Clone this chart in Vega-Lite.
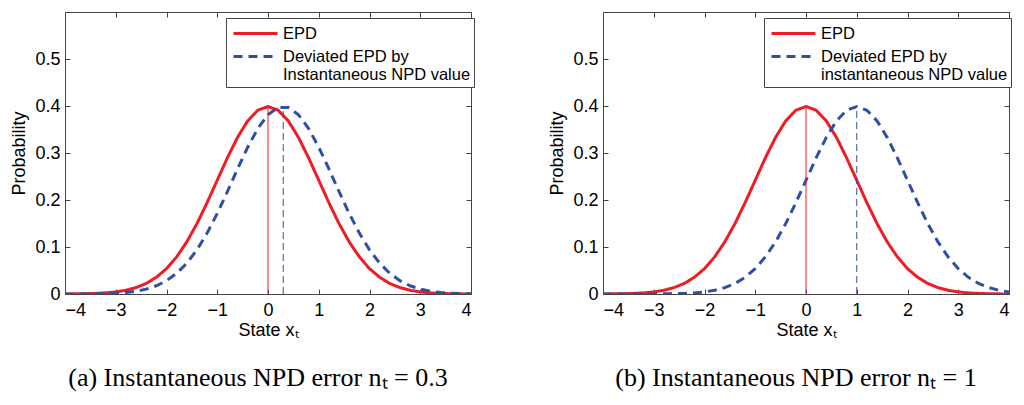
{
  "$schema": "https://vega.github.io/schema/vega-lite/v6.json",
  "background": "white",
  "padding": {"left": 10, "top": 11, "right": 5, "bottom": 2},
  "datasets": {
    "a": [
      {"x": -4.0, "EPD": 0.0001, "Deviated": 0.0000},
      {"x": -3.8, "EPD": 0.0003, "Deviated": 0.0001},
      {"x": -3.6, "EPD": 0.0006, "Deviated": 0.0002},
      {"x": -3.4, "EPD": 0.0012, "Deviated": 0.0004},
      {"x": -3.2, "EPD": 0.0024, "Deviated": 0.0009},
      {"x": -3.0, "EPD": 0.0044, "Deviated": 0.0017},
      {"x": -2.8, "EPD": 0.0079, "Deviated": 0.0033},
      {"x": -2.6, "EPD": 0.0136, "Deviated": 0.0060},
      {"x": -2.4, "EPD": 0.0224, "Deviated": 0.0104},
      {"x": -2.2, "EPD": 0.0355, "Deviated": 0.0175},
      {"x": -2.0, "EPD": 0.0540, "Deviated": 0.0283},
      {"x": -1.8, "EPD": 0.0790, "Deviated": 0.0440},
      {"x": -1.6, "EPD": 0.1109, "Deviated": 0.0656},
      {"x": -1.4, "EPD": 0.1497, "Deviated": 0.0940},
      {"x": -1.2, "EPD": 0.1942, "Deviated": 0.1295},
      {"x": -1.0, "EPD": 0.2420, "Deviated": 0.1714},
      {"x": -0.8, "EPD": 0.2897, "Deviated": 0.2179},
      {"x": -0.6, "EPD": 0.3332, "Deviated": 0.2661},
      {"x": -0.4, "EPD": 0.3683, "Deviated": 0.3123},
      {"x": -0.2, "EPD": 0.3910, "Deviated": 0.3521},
      {"x": 0.0, "EPD": 0.3989, "Deviated": 0.3814},
      {"x": 0.2, "EPD": 0.3910, "Deviated": 0.3970},
      {"x": 0.4, "EPD": 0.3683, "Deviated": 0.3970},
      {"x": 0.6, "EPD": 0.3332, "Deviated": 0.3814},
      {"x": 0.8, "EPD": 0.2897, "Deviated": 0.3521},
      {"x": 1.0, "EPD": 0.2420, "Deviated": 0.3123},
      {"x": 1.2, "EPD": 0.1942, "Deviated": 0.2661},
      {"x": 1.4, "EPD": 0.1497, "Deviated": 0.2179},
      {"x": 1.6, "EPD": 0.1109, "Deviated": 0.1714},
      {"x": 1.8, "EPD": 0.0790, "Deviated": 0.1295},
      {"x": 2.0, "EPD": 0.0540, "Deviated": 0.0940},
      {"x": 2.2, "EPD": 0.0355, "Deviated": 0.0656},
      {"x": 2.4, "EPD": 0.0224, "Deviated": 0.0440},
      {"x": 2.6, "EPD": 0.0136, "Deviated": 0.0283},
      {"x": 2.8, "EPD": 0.0079, "Deviated": 0.0175},
      {"x": 3.0, "EPD": 0.0044, "Deviated": 0.0104},
      {"x": 3.2, "EPD": 0.0024, "Deviated": 0.0060},
      {"x": 3.4, "EPD": 0.0012, "Deviated": 0.0033},
      {"x": 3.6, "EPD": 0.0006, "Deviated": 0.0017},
      {"x": 3.8, "EPD": 0.0003, "Deviated": 0.0009},
      {"x": 4.0, "EPD": 0.0001, "Deviated": 0.0004}
    ],
    "b": [
      {"x": -4.0, "EPD": 0.0001, "Deviated": 0.0000},
      {"x": -3.8, "EPD": 0.0003, "Deviated": 0.0000},
      {"x": -3.6, "EPD": 0.0006, "Deviated": 0.0000},
      {"x": -3.4, "EPD": 0.0012, "Deviated": 0.0000},
      {"x": -3.2, "EPD": 0.0024, "Deviated": 0.0000},
      {"x": -3.0, "EPD": 0.0044, "Deviated": 0.0001},
      {"x": -2.8, "EPD": 0.0079, "Deviated": 0.0003},
      {"x": -2.6, "EPD": 0.0136, "Deviated": 0.0006},
      {"x": -2.4, "EPD": 0.0224, "Deviated": 0.0012},
      {"x": -2.2, "EPD": 0.0355, "Deviated": 0.0024},
      {"x": -2.0, "EPD": 0.0540, "Deviated": 0.0044},
      {"x": -1.8, "EPD": 0.0790, "Deviated": 0.0079},
      {"x": -1.6, "EPD": 0.1109, "Deviated": 0.0136},
      {"x": -1.4, "EPD": 0.1497, "Deviated": 0.0224},
      {"x": -1.2, "EPD": 0.1942, "Deviated": 0.0355},
      {"x": -1.0, "EPD": 0.2420, "Deviated": 0.0540},
      {"x": -0.8, "EPD": 0.2897, "Deviated": 0.0790},
      {"x": -0.6, "EPD": 0.3332, "Deviated": 0.1109},
      {"x": -0.4, "EPD": 0.3683, "Deviated": 0.1497},
      {"x": -0.2, "EPD": 0.3910, "Deviated": 0.1942},
      {"x": 0.0, "EPD": 0.3989, "Deviated": 0.2420},
      {"x": 0.2, "EPD": 0.3910, "Deviated": 0.2897},
      {"x": 0.4, "EPD": 0.3683, "Deviated": 0.3332},
      {"x": 0.6, "EPD": 0.3332, "Deviated": 0.3683},
      {"x": 0.8, "EPD": 0.2897, "Deviated": 0.3910},
      {"x": 1.0, "EPD": 0.2420, "Deviated": 0.3989},
      {"x": 1.2, "EPD": 0.1942, "Deviated": 0.3910},
      {"x": 1.4, "EPD": 0.1497, "Deviated": 0.3683},
      {"x": 1.6, "EPD": 0.1109, "Deviated": 0.3332},
      {"x": 1.8, "EPD": 0.0790, "Deviated": 0.2897},
      {"x": 2.0, "EPD": 0.0540, "Deviated": 0.2420},
      {"x": 2.2, "EPD": 0.0355, "Deviated": 0.1942},
      {"x": 2.4, "EPD": 0.0224, "Deviated": 0.1497},
      {"x": 2.6, "EPD": 0.0136, "Deviated": 0.1109},
      {"x": 2.8, "EPD": 0.0079, "Deviated": 0.0790},
      {"x": 3.0, "EPD": 0.0044, "Deviated": 0.0540},
      {"x": 3.2, "EPD": 0.0024, "Deviated": 0.0355},
      {"x": 3.4, "EPD": 0.0012, "Deviated": 0.0224},
      {"x": 3.6, "EPD": 0.0006, "Deviated": 0.0136},
      {"x": 3.8, "EPD": 0.0003, "Deviated": 0.0079},
      {"x": 4.0, "EPD": 0.0001, "Deviated": 0.0044}
    ],
    "markers_a": [
      {"x": 0, "y0": 0, "y1": 0.3989, "series": "EPD"},
      {"x": 0.3, "y0": 0, "y1": 0.3989, "series": "Deviated"}
    ],
    "markers_b": [
      {"x": 0, "y0": 0, "y1": 0.3989, "series": "EPD"},
      {"x": 1, "y0": 0, "y1": 0.3989, "series": "Deviated"}
    ]
  },
  "config": {
    "font": "Liberation Sans",
    "view": {"stroke": "#444444", "strokeWidth": 1},
    "axis": {
      "grid": false,
      "domain": false,
      "tickColor": "#444444",
      "tickSize": -5,
      "labelFontSize": 18,
      "labelColor": "black",
      "titleFontSize": 18,
      "titleFontWeight": "normal",
      "titleColor": "black"
    },
    "title": {"font": "Liberation Serif", "fontSize": 26, "fontWeight": "normal", "color": "black", "orient": "bottom"},
    "legend": {
      "orient": "none",
      "legendX": 161,
      "legendY": 6,
      "strokeColor": "#444444",
      "fillColor": "white",
      "padding": 3,
      "symbolType": "M-2,0H2",
      "symbolSize": 484,
      "symbolOffset": 14,
      "symbolStrokeWidth": 3,
      "labelFontSize": 16.5,
      "labelColor": "black",
      "labelOffset": 15,
      "labelLimit": 300,
      "rowPadding": 2,
      "title": null
    }
  },
  "hconcat": [
    {
      "title": {"text": "(a) Instantaneous NPD error nₜ = 0.3", "dx": -10, "offset": 26},
      "width": 406,
      "height": 282,
      "layer": [
        {
          "data": {"name": "a"},
          "transform": [{"fold": ["EPD", "Deviated"], "as": ["series", "p"]}],
          "mark": {"type": "line", "strokeWidth": 3, "clip": true},
          "encoding": {
            "x": {"field": "x", "type": "quantitative", "scale": {"domain": [-4, 4], "nice": false},
                  "axis": {"orient": "bottom", "values": [-4, -3, -2, -1, 0, 1, 2, 3, 4], "title": "State xₜ", "labelPadding": 12, "titlePadding": 2}},
            "y": {"field": "p", "type": "quantitative", "scale": {"domain": [0, 0.6], "nice": false},
                  "axis": {"orient": "left", "values": [0, 0.1, 0.2, 0.3, 0.4, 0.5], "format": "~g", "title": "Probability", "labelPadding": 10, "titlePadding": 6}},
            "color": {"field": "series", "type": "nominal",
                      "scale": {"domain": ["EPD", "Deviated"], "range": ["#f01c24", "#2f4fa2"]},
                      "legend": {"labelExpr": "datum.label == 'EPD' ? 'EPD' : ['Deviated EPD by', 'Instantaneous NPD value']"}},
            "strokeDash": {"field": "series", "type": "nominal",
                           "scale": {"domain": ["EPD", "Deviated"], "range": [[1, 0], [9, 6]]},
                           "legend": {"labelExpr": "datum.label == 'EPD' ? 'EPD' : ['Deviated EPD by', 'Instantaneous NPD value']"}}
          }
        },
        {
          "data": {"name": "markers_a"},
          "transform": [{"filter": "datum.series == 'EPD'"}],
          "mark": {"type": "rule", "strokeWidth": 1, "color": "#f01c24"},
          "encoding": {
            "x": {"field": "x", "type": "quantitative", "axis": null},
            "y": {"field": "y0", "type": "quantitative", "axis": null},
            "y2": {"field": "y1"}
          }
        },
        {
          "data": {"name": "markers_a"},
          "transform": [{"filter": "datum.series == 'Deviated'"}],
          "mark": {"type": "rule", "strokeWidth": 1, "color": "#2f4fa2", "strokeDash": [7, 4]},
          "encoding": {
            "x": {"field": "x", "type": "quantitative", "axis": null},
            "y": {"field": "y0", "type": "quantitative", "axis": null},
            "y2": {"field": "y1"}
          }
        },
        {
          "data": {"name": "markers_a"},
          "mark": {"type": "rule", "opacity": 0},
          "encoding": {
            "x": {"field": "x", "type": "quantitative", "axis": {"orient": "top", "values": [-4, -3, -2, -1, 0, 1, 2, 3, 4], "labels": false, "title": null}},
            "y": {"field": "y0", "type": "quantitative", "axis": {"orient": "right", "values": [0, 0.1, 0.2, 0.3, 0.4, 0.5], "labels": false, "title": null}}
          }
        }
      ],
      "resolve": {"axis": {"x": "independent", "y": "independent"}}
    },
    {
      "title": {"text": "(b) Instantaneous NPD error nₜ = 1", "dx": -10, "offset": 26},
      "width": 406,
      "height": 282,
      "layer": [
        {
          "data": {"name": "b"},
          "transform": [{"fold": ["EPD", "Deviated"], "as": ["series", "p"]}],
          "mark": {"type": "line", "strokeWidth": 3, "clip": true},
          "encoding": {
            "x": {"field": "x", "type": "quantitative", "scale": {"domain": [-4, 4], "nice": false},
                  "axis": {"orient": "bottom", "values": [-4, -3, -2, -1, 0, 1, 2, 3, 4], "title": "State xₜ", "labelPadding": 12, "titlePadding": 2}},
            "y": {"field": "p", "type": "quantitative", "scale": {"domain": [0, 0.6], "nice": false},
                  "axis": {"orient": "left", "values": [0, 0.1, 0.2, 0.3, 0.4, 0.5], "format": "~g", "title": "Probability", "labelPadding": 10, "titlePadding": 6}},
            "color": {"field": "series", "type": "nominal",
                      "scale": {"domain": ["EPD", "Deviated"], "range": ["#f01c24", "#2f4fa2"]},
                      "legend": {"labelExpr": "datum.label == 'EPD' ? 'EPD' : ['Deviated EPD by', 'instantaneous NPD value']"}},
            "strokeDash": {"field": "series", "type": "nominal",
                           "scale": {"domain": ["EPD", "Deviated"], "range": [[1, 0], [9, 6]]},
                           "legend": {"labelExpr": "datum.label == 'EPD' ? 'EPD' : ['Deviated EPD by', 'instantaneous NPD value']"}}
          }
        },
        {
          "data": {"name": "markers_b"},
          "transform": [{"filter": "datum.series == 'EPD'"}],
          "mark": {"type": "rule", "strokeWidth": 1, "color": "#f01c24"},
          "encoding": {
            "x": {"field": "x", "type": "quantitative", "axis": null},
            "y": {"field": "y0", "type": "quantitative", "axis": null},
            "y2": {"field": "y1"}
          }
        },
        {
          "data": {"name": "markers_b"},
          "transform": [{"filter": "datum.series == 'Deviated'"}],
          "mark": {"type": "rule", "strokeWidth": 1, "color": "#2f4fa2", "strokeDash": [7, 4]},
          "encoding": {
            "x": {"field": "x", "type": "quantitative", "axis": null},
            "y": {"field": "y0", "type": "quantitative", "axis": null},
            "y2": {"field": "y1"}
          }
        },
        {
          "data": {"name": "markers_b"},
          "mark": {"type": "rule", "opacity": 0},
          "encoding": {
            "x": {"field": "x", "type": "quantitative", "axis": {"orient": "top", "values": [-4, -3, -2, -1, 0, 1, 2, 3, 4], "labels": false, "title": null}},
            "y": {"field": "y0", "type": "quantitative", "axis": {"orient": "right", "values": [0, 0.1, 0.2, 0.3, 0.4, 0.5], "labels": false, "title": null}}
          }
        }
      ],
      "resolve": {"axis": {"x": "independent", "y": "independent"}}
    }
  ],
  "spacing": 73,
  "resolve": {"scale": {"color": "independent", "strokeDash": "independent"}, "legend": {"color": "independent", "strokeDash": "independent"}}
}
